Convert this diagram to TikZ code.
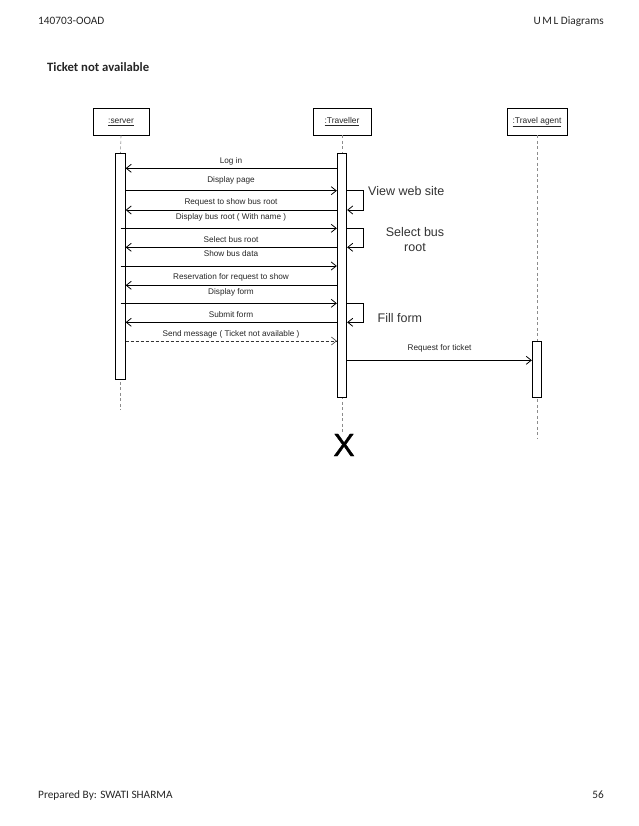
\documentclass[tikz,border=0pt]{standalone}
\usepackage{fontspec}
\setmainfont{Liberation Sans}
\newfontfamily\hdr{Carlito}
\newfontfamily\xfont[FakeBold=1.2]{Liberation Sans}
\usetikzlibrary{arrows.meta}
\begin{document}
\begin{tikzpicture}[x=1pt,y=-1pt,
  head/.style={draw, line width=0.8pt, minimum height=27pt, inner sep=0pt, font=\fontsize{8.4}{9}\selectfont, text=black!85, text height=6.2pt, text depth=2.6pt},
  bar/.style={draw, line width=0.8pt, fill=white, minimum width=9.5pt, inner sep=0pt},
  life/.style={draw=gray!90, dash pattern=on 3pt off 2.5pt, line width=0.6pt},
  msg/.style={line width=0.8pt, -{Straight Barb[length=5pt,width=8pt]}},
  dmsg/.style={msg, draw=black!80, dash pattern=on 3pt off 2pt, line width=0.6pt},
  lbl/.style={font=\fontsize{8.2}{9}\selectfont, text=black!85, inner sep=0pt, text height=6pt, text depth=1.7pt},
  selflbl/.style={font=\fontsize{12.5}{15}\selectfont, text=black!80, inner sep=0pt},
  hd/.style={font=\hdr\fontsize{11.3}{13}\selectfont, inner sep=0pt, text=black!85, text height=8pt, text depth=2pt}
]
\useasboundingbox[fill=white] (0,0) rectangle (638,826);

% page header / footer
\node[hd, anchor=west] (hleft) at (38,22) {140703-OOAD};
\node[hd, anchor=east] (hright) at (604,22) {U\kern1.5pt M\kern1.5pt L Diagrams};
\node[hd, anchor=west, font=\hdr\bfseries\fontsize{12.7}{14}\selectfont] (title) at (47,69) {Ticket not available};
\node[hd, anchor=west] (fleft) at (38,795) {Prepared By: SWATI SHARMA};
\node[hd, anchor=east] (fright) at (604,795) {56};

% lifeline heads
\node[head, minimum width=56pt] (shead) at (121,121.5) {\underline{:server}};
\node[head, minimum width=58pt] (thead) at (342,121.5) {\underline{:Traveller}};
\node[head, minimum width=60pt] (ahead) at (537,121.5) {\underline{:Travel agent}};

% end points
\coordinate (send) at (120.5,410);
\coordinate (aend) at (537,439);
\node[inner sep=0pt, font=\xfont\fontsize{32}{32}\selectfont] (xdel) at (344,445) {X};

% activation bar positions
\coordinate (sbarc) at (120.5,266.3);
\coordinate (tbarc) at (342,275.3);
\coordinate (abarc) at (537,369.5);

% lifelines
\draw[life] (shead.south) -- (sbarc |- 0,153.3);
\draw[life] (thead.south) -- (tbarc |- 0,153.3);
\draw[life] (ahead.south) -- (aend);
\draw[life] (sbarc) -- (send);
\draw[life] (tbarc) -- (tbarc |- xdel.north);

% activation bars
\node[bar, minimum height=226pt] (sbar) at (sbarc) {};
\node[bar, minimum height=244pt] (tbar) at (tbarc) {};
\node[bar, minimum height=55.6pt] (abar) at (abarc) {};

% message rows
\coordinate (m1) at (0,168.3);
\coordinate (m2) at (0,190.7);
\coordinate (m3) at (0,210);
\coordinate (m4) at (0,228.3);
\coordinate (m5) at (0,247.3);
\coordinate (m6) at (0,266);
\coordinate (m7) at (0,285.3);
\coordinate (m8) at (0,303.3);
\coordinate (m9) at (0,322.3);
\coordinate (m10) at (0,341);
\coordinate (m11) at (0,360.3);

% messages
\draw[msg] (tbar.west |- m1) -- (sbar.east |- m1);
\draw[msg] (sbar.east |- m2) -- (tbar.west |- m2);
\draw[msg] (tbar.west |- m3) -- (sbar.east |- m3);
\draw[msg] (sbar.center |- m4) -- (tbar.west |- m4);
\draw[msg] (tbar.west |- m5) -- (sbar.east |- m5);
\draw[msg] (sbar.center |- m6) -- (tbar.west |- m6);
\draw[msg] (tbar.west |- m7) -- (sbar.east |- m7);
\draw[msg] (sbar.center |- m8) -- (tbar.west |- m8);
\draw[msg] (tbar.west |- m9) -- (sbar.east |- m9);
\draw[dmsg] (sbar.east |- m10) -- (tbar.west |- m10);
\draw[msg] (tbar.east |- m11) -- (abar.west |- m11);

% message labels
\node[lbl] (l1) at (231,161) {Log in};
\node[lbl] (l2) at (231,180.3) {Display page};
\node[lbl] (l3) at (231,202.3) {Request to show bus root};
\node[lbl] (l4) at (231,217.3) {Display bus root ( With name )};
\node[lbl] (l5) at (231,240) {Select bus root};
\node[lbl] (l6) at (231,254.7) {Show bus data};
\node[lbl] (l7) at (231,277.7) {Reservation for request to show};
\node[lbl] (l8) at (231,292) {Display form};
\node[lbl] (l9) at (231,315) {Submit form};
\node[lbl] (l10) at (231,334) {Send message ( Ticket not available )};
\node[lbl] (l11) at (439.5,348.3) {Request for ticket};

% self messages
\draw[msg] (tbar.east |- m2) -- ++(16,0) |- (tbar.east |- m3);
\draw[msg] (tbar.east |- m4) -- ++(16,0) |- (tbar.east |- m5);
\draw[msg] (tbar.east |- m8) -- ++(16,0) |- (tbar.east |- m9);
\node[selflbl, anchor=west] (s1) at (368,190.7) {View web site};
\node[selflbl, align=center] (s2) at (415,239.5) {Select bus\\root};
\node[selflbl, anchor=west] (s3) at (377.5,318.3) {Fill form};
\end{tikzpicture}
\end{document}
